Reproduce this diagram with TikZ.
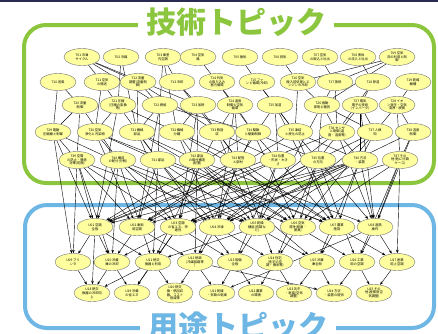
\documentclass[tikz,border=0pt]{standalone}
\usepackage{fontspec}
\setmainfont{Noto Sans CJK JP}
\usetikzlibrary{shapes.geometric}
\usetikzlibrary{arrows.meta}
\usetikzlibrary{backgrounds}
\definecolor{techgreen}{HTML}{8CC63F}
\definecolor{useblue}{HTML}{6EB6E4}
\definecolor{topicfill}{HTML}{FFFFA0}
\definecolor{navy}{HTML}{2B2B52}
\tikzstyle{tline} = [line width=.4pt]
\tikzstyle{tarrow} = [line width=.4pt, -{Stealth[length=3.5pt,width=2.6pt]}]

\begin{document}
\begin{tikzpicture}[
  x=1pt, y=-1pt,
  topic/.style={ellipse, draw=black!55, fill=topicfill, minimum width=36pt,
    minimum height=17pt, inner sep=0pt, align=center,
    font=\fontsize{3.3}{3.7}\selectfont},
  frame/.style={line width=4pt, rounded corners=22pt},
  title/.style={fill=white, inner xsep=8pt, inner ysep=0pt,
    font=\fontsize{30}{32}\selectfont\bfseries},
]
\useasboundingbox (0,0) rectangle (438,333);
\fill[navy] (0,0) rectangle (438,2);

% technology topics
\foreach \n/\x/\l in {t01/82/{T01 冷凍\\サイクル}, t02/121/{T02 冷媒}, t03/163/{T03 車室\\内空調},
    t04/198/{T04 空気\\路}, t05/240/{T05 換気}, t06/280/{T06 排気},
    t07/320/{T07 空気\\の取込と吐出}, t08/358/{T08 液体\\の流入と吐出}, t09/397/{T09 空気\\流の利用と制\\御}}
  \node[topic] (\n) at (\x,57) {\l};
\foreach \n/\x/\l in {t10/58/{T10 送風}, t11/102/{T11 空気\\の搬送}, t12/138/{T12 流量\\調整(流量制\\御)},
    t13/177/{T13 冷却}, t14/217/{T14 外気\\の取り込み\\室内循環}, t15/257/{T15 ファ\\ンと循環(冷却)},
    t16/298/{T16 空気\\搬入前処理とエ\\ンジンの冷却}, t17/335/{T17 放熱}, t18/373/{T18 除湿},
    t19/413/{T19 乾燥\\機構}}
  \node[topic] (\n) at (\x,82) {\l};
\foreach \n/\x/\l in {t20/80/{T20 流量\\制御}, t21/118/{T21 圧縮\\(圧縮の変換\\等)}, t22/160/{T22 燃焼},
    t23/198/{T23 加熱}, t24/235/{T24 温度\\制御と空気\\循環}, t25/275/{T25 加湿},
    t26/322/{T26 振動\\抑制と騒音}, t27/360/{T27 電気\\電子の技術\\(インバータ)},
    t28/397/{T28 イオ\\ン発生・空気\\清浄・脱臭}}
  \node[topic] (\n) at (\x,105) {\l};
\foreach \n/\x/\l in {t29/53/{T29 電動\\圧縮機と制御}, t30/95/{T30 空気\\浄化と汚染物}, t31/137/{T31 機械\\部品},
    t32/177/{T32 機械\\分離}, t33/217/{T33 熱回\\収}, t34/253/{T34 駆動\\と駆動制御},
    t35/295/{T35 凍結\\と液化の防止}, t36/337/{T36 センサ\\と制御(温\\度・湿度等)},
    t37/375/{T37 人検\\知}, t38/413/{T38 湿度\\制御}}
  \node[topic] (\n) at (\x,132) {\l};
\foreach \n/\x/\l in {t39/77/{T39 空間\\の防止・騒音\\対策(防振)}, t40/118/{T40 構成\\の配分(分割)},
    t41/158/{T41 部品}, t42/197/{T42 部品\\の取付構造\\(配置)}, t43/238/{T43 配管\\と部材},
    t44/278/{T44 位置\\・形状・大き\\さ}, t45/318/{T45 位置\\の方向}, t46/360/{T46 方法\\・装置},
    t47/400/{T47 その\\他(他に分類\\ケース)}}
  \node[topic] (\n) at (\x,160) {\l};

% application topics
\foreach \n/\x/\l in {u01/95/{U01 空調\\全般}, u02/137/{U02 車両\\用空調}, u03/178/{U03 空調\\の省エネ、快\\適性},
    u04/217/{U04 冷凍}, u05/257/{U05 乾燥\\機能(衣類な\\ど)}, u06/298/{U06 空気\\清浄(除菌・\\脱臭)},
    u07/337/{U07 農業\\施設}, u08/375/{U08 遠隔\\操作}}
  \node[topic] (\n) at (\x,227) {\l};
\foreach \n/\x/\l in {u09/73/{U09 プリ\\ンタ}, u10/112/{U10 冷蔵\\庫の冷却}, u11/153/{U11 熱交\\換器と利用},
    u12/195/{U12 熱源\\(冷媒回路等\\)}, u13/235/{U13 設備\\全般}, u14/275/{U14 住宅\\(住宅の空\\調・換気等)},
    u15/317/{U15 冷蔵\\庫全般}, u16/357/{U16 工業\\用の空調}, u17/397/{U17 産業\\用上空調}}
  \node[topic] (\n) at (\x,262) {\l};
\foreach \n/\x/\l in {u18/92/{U18 熱交\\換器の冷却向\\上}, u19/132/{U19 冷蔵\\の省エネ},
    u20/175/{U20 熱交\\換・熱回収\\器、コスト\\削減等}, u21/217/{U21 乾燥\\・衣類の乾燥},
    u22/256/{U22 農業\\の環境}, u23/294/{U23 乳牛\\・家畜(空気\\調整)},
    u24/334/{U24 方法\\・装置の提供}, u25/374/{U25 その\\他(産業用空\\気調整)}}
  \node[topic] (\n) at (\x,293) {\l};

\begin{scope}[on background layer]
  \draw[techgreen, frame] (24,25) rectangle (434,183);
  \draw[useblue, frame] (25,205) rectangle (434,328);
  % links between technology topics
  \foreach \a/\b in {t01/t11, t01/t12, t01/t22, t01/t23, t02/t21, t02/t31, t03/t13, t03/t22,
      t03/t32, t04/t14, t05/t15, t06/t16, t07/t17, t08/t18, t09/t16, t09/t17, t09/t26,
      t10/t20, t11/t21, t11/t30, t12/t22, t12/t31, t13/t23, t13/t33, t14/t24, t14/t34,
      t15/t25, t15/t35, t16/t26, t16/t35, t17/t26, t17/t36, t18/t27, t18/t36, t19/t28,
      t12/t33, t10/t29, t20/t29, t20/t39, t21/t30, t21/t32, t22/t31, t22/t41, t23/t32,
      t23/t42, t24/t33, t24/t34, t25/t35, t25/t44, t26/t36, t26/t45, t27/t37, t27/t46,
      t28/t38, t28/t47, t22/t34, t23/t43, t24/t43, t26/t37, t29/t39, t30/t40, t31/t41,
      t31/t42, t32/t42, t32/t43, t33/t43, t34/t44, t35/t45, t36/t46, t37/t46, t38/t47,
      t30/t41, t33/t44, t34/t45, t35/t46, t21/t41, t25/t43, t27/t45, t20/t40}
    \draw[tline] (\a) -- (\b);
  % technology to application
  \foreach \a/\b in {t39/u01, t39/u02, t39/u03, t39/u09, t39/u10, t40/u01, t40/u03, t40/u04,
      t40/u10, t41/u02, t41/u04, t41/u05, t41/u11, t42/u03, t42/u05, t42/u06, t42/u12,
      t43/u01, t43/u04, t43/u06, t43/u07, t44/u02, t44/u05, t44/u07, t44/u13, t45/u03,
      t45/u06, t45/u08, t45/u14, t46/u01, t46/u02, t46/u04, t46/u05, t46/u07, t46/u08,
      t46/u15, t47/u06, t47/u08, t47/u16, t47/u17, t29/u01, t30/u02, t31/u03, t32/u04,
      t33/u05, t34/u06, t35/u07, t36/u08, t37/u03, t38/u08, t29/u09, t33/u11, t36/u01,
      t34/u12, t21/u01, t22/u02, t24/u04, t26/u05, t28/u06, t23/u03, t25/u07, t27/u08,
      t39/u05, t40/u06, t41/u07, t42/u08, t43/u02, t44/u01, t45/u04, t47/u03, t46/u03,
      t31/u06, t32/u07, t35/u02, t37/u05, t38/u04, t30/u07, t34/u01, t36/u04, t29/u05,
      t41/u13, t43/u14, t45/u16, t40/u11, t42/u15}
    \draw[tarrow] (\a) -- (\b);
  % links between application topics
  \foreach \a/\b in {u01/u09, u01/u10, u01/u11, u02/u10, u02/u12, u03/u11, u03/u13, u04/u12,
      u04/u14, u05/u13, u05/u15, u06/u14, u06/u16, u07/u15, u07/u17, u08/u16, u08/u17,
      u03/u10, u05/u11, u09/u18, u10/u18, u10/u19, u11/u19, u11/u20, u12/u20, u12/u21,
      u13/u22, u13/u21, u14/u22, u14/u23, u15/u24, u15/u23, u16/u24, u16/u25, u17/u25,
      u11/u18, u12/u24, u01/u18, u03/u19, u08/u21}
    \draw[tarrow] (\a) -- (\b);
\end{scope}

\node[title, text=techgreen] (techtitle) at (236,22) {技術トピック};
\node[title, text=useblue] (usetitle) at (238,326) {用途トピック};
\end{tikzpicture}
\end{document}
